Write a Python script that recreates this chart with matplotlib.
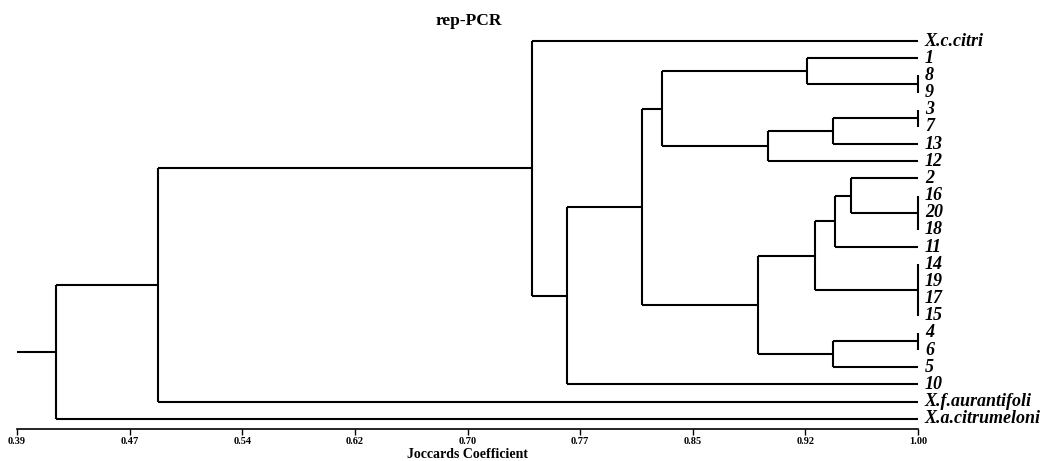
import numpy as np
import matplotlib
matplotlib.use("Agg")
import matplotlib.pyplot as plt

plt.rcParams['font.family'] = ['Liberation Serif', 'DejaVu Serif']

# leaf order, top to bottom
leaves = ["X.c.citri", "1", "8", "9", "3", "7", "13", "12", "2", "16", "20",
          "18", "11", "14", "19", "17", "15", "4", "6", "5", "10",
          "X.f.aurantifoli", "X.a.citrumeloni"]

# internal nodes: name, children, similarity level
node_names = ["A", "B", "C", "D", "E", "F", "G", "H", "I", "J",
              "K", "L", "M", "N", "O", "P", "Q", "R", "S"]
node_children = [["8", "9"], ["1", "A"], ["3", "7"], ["C", "13"], ["D", "12"],
                 ["B", "E"], ["16", "20", "18"], ["2", "G"], ["H", "11"],
                 ["14", "19", "17", "15"], ["I", "J"], ["4", "6"], ["L", "5"],
                 ["K", "M"], ["F", "N"], ["O", "10"], ["X.c.citri", "P"],
                 ["Q", "X.f.aurantifoli"], ["R", "X.a.citrumeloni"]]
node_levels = [1.00, 0.9246, 1.00, 0.9425, 0.8984, 0.8267, 1.00, 0.9546, 0.9438,
               1.00, 0.9303, 1.00, 0.9425, 0.8917, 0.8131, 0.7623, 0.7387,
               0.4855, 0.4164]
root_start = 0.39

tick_vals = np.linspace(0.39, 1.00, 9)
tick_labels = ["0.39", "0.47", "0.54", "0.62", "0.70", "0.77", "0.85", "0.92", "1.00"]

fig = plt.figure(figsize=(10.48, 4.61), dpi=100)
ax = fig.add_axes([17 / 1048, 32 / 461, 901 / 1048, 399 / 461])

pos = {}
lev = {}
for i, name in enumerate(leaves):
    pos[name] = i
    lev[name] = 1.0

lw = 1.5
for name, kids, h in zip(node_names, node_children, node_levels):
    ys = [pos[k] for k in kids]
    y0, y1 = min(ys), max(ys)
    pos[name] = (y0 + y1) / 2
    lev[name] = h
    ax.plot([h, h], [y0, y1], color="black", lw=lw, clip_on=False,
            solid_capstyle="butt")
    for k in kids:
        if lev[k] > h:
            ax.plot([h, lev[k]], [pos[k], pos[k]], color="black", lw=lw,
                    clip_on=False, solid_capstyle="butt")

root = node_names[-1]
ax.plot([root_start, lev[root]], [pos[root], pos[root]], color="black", lw=lw,
        clip_on=False, solid_capstyle="butt")

for name in leaves:
    ax.annotate(name, xy=(1.0, pos[name]), xytext=(5, 0),
                textcoords="offset points", va="center", ha="left",
                fontsize=13, fontstyle="italic", fontweight="bold")

ax.set_xlim(0.39, 1.00)
ax.set_ylim(22.6, -0.65)
ax.set_xticks(tick_vals)
ax.set_xticklabels(tick_labels, fontsize=7.5, fontweight="bold")
ax.tick_params(axis="x", length=4, width=1, pad=2)
ax.set_yticks([])
for s in ["top", "right", "left"]:
    ax.spines[s].set_visible(False)
ax.spines["bottom"].set_linewidth(1.2)

ax.set_xlabel("Joccards Coefficient", fontsize=10, fontweight="bold", labelpad=1.5)
fig.text(469 / 1048, 1 - 21 / 461, "rep-PCR", ha="center", va="center",
         fontsize=12.5, fontweight="bold")

fig.savefig("out.png", dpi=100)
